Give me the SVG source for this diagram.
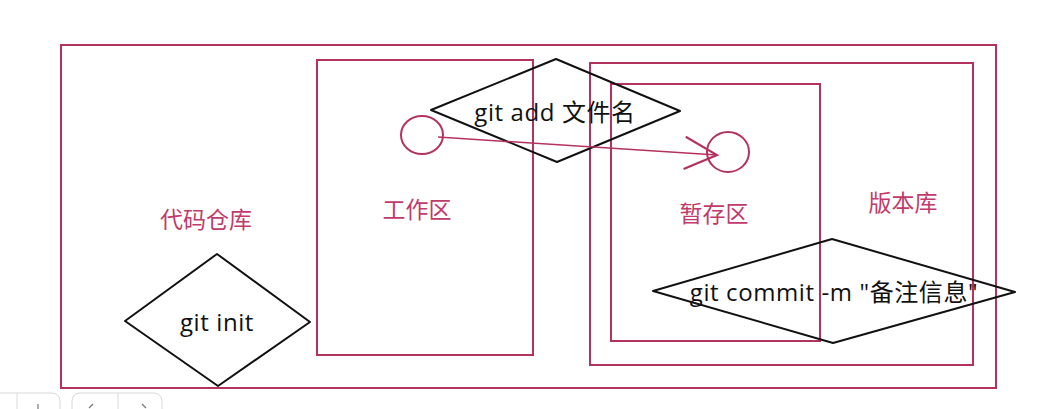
<svg xmlns="http://www.w3.org/2000/svg" width="1046" height="409" viewBox="0 0 1046 409">
<defs>
<style>
.box{fill:none;stroke:#b4325f;stroke-width:2}
.lbl{fill:#c03a6b;font-family:"Noto Sans CJK SC","Noto Sans",sans-serif;font-size:23px;text-anchor:middle;dominant-baseline:central}
.dia{fill:none;stroke:#111;stroke-width:2;stroke-linejoin:round}
.cmd{fill:#111;font-family:"Open Sans","Noto Sans CJK SC",sans-serif;font-size:24px;letter-spacing:0.6px;text-anchor:middle;dominant-baseline:central}
.ui{fill:none;stroke:#d8d8d8;stroke-width:1}
.uii{fill:none;stroke:#777;stroke-width:1.2}
</style>
<marker id="open" viewBox="0 0 20 20" refX="19" refY="10" markerWidth="36" markerHeight="36" markerUnits="userSpaceOnUse" orient="auto">
<path d="M1,1 L19,10 L1,19" fill="none" stroke="#b4325f" stroke-width="1.2"/>
</marker>
</defs>
<rect width="1046" height="409" fill="#fff"/>
<g id="repo">
<rect class="box" x="61" y="45" width="935" height="343"/>
<text class="lbl" x="206" y="218">代码仓库</text>
</g>
<g id="workspace">
<rect class="box" x="317" y="60" width="216" height="295"/>
<text class="lbl" x="417" y="208">工作区</text>
</g>
<g id="version">
<rect class="box" x="590" y="63" width="383" height="302"/>
<text class="lbl" x="903" y="201">版本库</text>
</g>
<g id="stage">
<rect class="box" x="611" y="84" width="209" height="257"/>
<text class="lbl" x="714" y="212">暂存区</text>
</g>
<g id="file-work">
<ellipse class="box" cx="422" cy="135" rx="21" ry="19"/>
</g>
<g id="file-stage">
<ellipse class="box" cx="728" cy="152" rx="21" ry="20"/>
</g>
<g id="git-init">
<polygon class="dia" points="217,254 310,322 218,386 125,321"/>
<text class="cmd" x="217" y="321">git init</text>
</g>
<g id="git-add">
<polygon class="dia" points="556,59 680,111 557,162 431,110"/>
<text class="cmd" x="555" y="111">git add 文件名</text>
</g>
<g id="git-commit">
<polygon class="dia" points="832,239 1015,292 833,343 653,291"/>
<text class="cmd" x="834" y="291">git commit -m "备注信息"</text>
</g>
<g id="connectors">
<line x1="438" y1="137" x2="717" y2="155" stroke="#b4325f" stroke-width="1.5" marker-end="url(#open)"/>
</g>
<g id="ui-bar">
<rect class="ui" x="-10" y="393" width="70" height="30" rx="8"/>
<line class="ui" x1="17" y1="393" x2="17" y2="409"/>
<rect class="ui" x="72" y="393" width="90" height="30" rx="8"/>
<line class="ui" x1="118" y1="393" x2="118" y2="409"/>
<path class="uii" d="M38,404 V409"/>
<path class="uii" d="M93,404 L89,408"/>
<path class="uii" d="M142,404 L146,408"/>
</g>
</svg>
